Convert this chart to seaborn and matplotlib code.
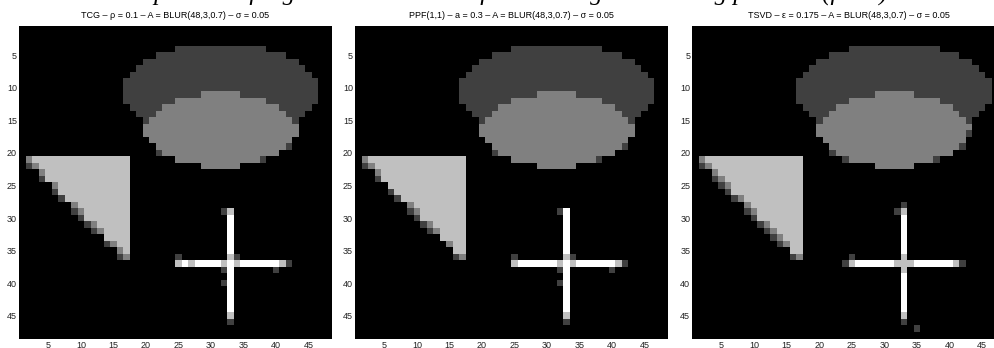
import numpy as np
import pandas as pd
import matplotlib
matplotlib.use("Agg")
import matplotlib.pyplot as plt
import seaborn as sns

N = 48
tick_values = [5, 10, 15, 20, 25, 30, 35, 40, 45]

suptitle_text = "Comparison of regularized solutions for the image deblurring problem (fixed)"
titles = [
    "TCG – ρ = 0.1 – A = BLUR(48,3,0.7) – σ = 0.05",
    "PPF(1,1) – a = 0.3 – A = BLUR(48,3,0.7) – σ = 0.05",
    "TSVD – ε = 0.175 – A = BLUR(48,3,0.7) – σ = 0.05",
]

# Shapes of the test image:
# (first row, last row, first column, last column, gray level), 1-based
large_ellipse = [
    (4, 4, 25, 38, 1), (5, 5, 22, 41, 1), (6, 6, 20, 43, 1), (7, 7, 19, 44, 1),
    (8, 8, 18, 45, 1), (9, 12, 17, 46, 1), (13, 13, 18, 45, 1), (14, 14, 19, 44, 1),
    (15, 15, 20, 43, 1), (16, 16, 22, 41, 1), (17, 17, 25, 38, 1),
]
small_ellipse = [
    (11, 11, 29, 34, 2), (12, 12, 25, 38, 2), (13, 13, 23, 40, 2), (14, 14, 22, 41, 2),
    (15, 15, 21, 42, 2), (16, 17, 20, 43, 2), (18, 18, 21, 42, 2), (19, 19, 22, 41, 2),
    (20, 20, 23, 40, 2), (21, 21, 25, 38, 2), (22, 22, 29, 34, 2),
]
triangle = [
    (21, 21, 2, 17, 3), (22, 22, 3, 17, 3), (23, 23, 4, 17, 3), (24, 24, 5, 17, 3),
    (25, 25, 6, 17, 3), (26, 26, 7, 17, 3), (27, 27, 8, 17, 3), (28, 28, 9, 17, 3),
    (29, 29, 10, 17, 3), (30, 30, 11, 17, 3), (31, 31, 12, 17, 3), (32, 32, 13, 17, 3),
    (33, 33, 14, 17, 3), (34, 34, 15, 17, 3), (35, 35, 16, 17, 3), (36, 36, 17, 17, 3),
]
cross = [(37, 37, 25, 41, 4), (29, 45, 33, 33, 4)]

# Pixels where each reconstruction differs from the shapes: (row, column, level)
tcg_pixels = [
    (19, 42, 1), (20, 22, 1), (21, 38, 1),
    (21, 2, 2), (22, 2, 1), (22, 3, 2), (23, 4, 2), (24, 4, 1), (25, 6, 2), (26, 6, 1),
    (27, 7, 1), (28, 9, 2), (29, 9, 1), (29, 10, 2), (30, 10, 1), (31, 11, 1), (31, 12, 2),
    (32, 12, 1), (32, 13, 2), (34, 14, 1), (34, 15, 2), (35, 16, 2), (36, 16, 1), (36, 17, 2),
    (29, 32, 1), (29, 33, 3), (36, 33, 3), (36, 34, 1), (36, 25, 1), (37, 25, 3), (37, 27, 3),
    (37, 32, 3), (37, 34, 3), (37, 41, 3), (37, 42, 1), (38, 32, 1), (38, 40, 1), (40, 32, 1),
    (45, 33, 3), (46, 33, 1),
]
ppf_pixels = [
    (19, 42, 1), (20, 22, 1), (21, 38, 1),
    (21, 2, 2), (22, 2, 1), (22, 3, 2), (23, 4, 2), (24, 4, 1), (26, 6, 1), (27, 7, 1),
    (28, 9, 2), (29, 9, 1), (29, 10, 2), (30, 10, 1), (31, 11, 1), (31, 12, 2), (32, 12, 1),
    (32, 13, 2), (34, 15, 2), (36, 16, 1), (36, 17, 2),
    (29, 32, 1), (36, 25, 1), (36, 33, 3), (36, 34, 1), (37, 25, 3), (37, 32, 3), (37, 34, 3),
    (37, 41, 3), (37, 42, 1), (38, 32, 1), (38, 40, 1), (40, 32, 1), (45, 33, 3), (46, 33, 1),
]
tsvd_pixels = [
    (17, 43, 1), (19, 42, 1), (20, 22, 1), (21, 24, 1), (21, 38, 1),
    (21, 2, 2), (22, 2, 1), (22, 3, 2), (23, 4, 2), (24, 4, 1), (24, 5, 2), (25, 5, 1),
    (25, 6, 2), (26, 6, 1), (27, 7, 1), (27, 8, 2), (28, 9, 2), (29, 9, 1), (29, 10, 2),
    (30, 10, 1), (31, 11, 1), (31, 12, 2), (32, 12, 1), (32, 13, 2), (33, 13, 1), (33, 14, 2),
    (34, 14, 1), (34, 15, 2), (36, 16, 1), (36, 17, 2),
    (28, 33, 1), (29, 32, 1), (29, 33, 3), (36, 25, 1), (36, 33, 3), (37, 24, 1), (37, 25, 3),
    (37, 32, 3), (37, 33, 3), (37, 34, 3), (37, 41, 3), (37, 42, 1), (38, 33, 3), (45, 33, 3),
    (46, 33, 1), (47, 35, 1),
]
panel_pixels = [tcg_pixels, ppf_pixels, tsvd_pixels]


def build_image(pixels):
    img = np.zeros((N, N))
    for r0, r1, c0, c1, v in large_ellipse + small_ellipse + triangle + cross:
        img[r0 - 1:r1, c0 - 1:c1] = v
    for r, c, v in pixels:
        img[r - 1, c - 1] = v
    labels = list(range(1, N + 1))
    return pd.DataFrame(img, index=labels, columns=labels)


W, H = 995, 348
fig = plt.figure(figsize=(W / 100, H / 100), dpi=100)
fig.patch.set_facecolor("white")

sans = ["Liberation Sans", "DejaVu Sans"]
panel_left = [19.0, 355.0, 692.3]
side = 312.5
top = 26.0

for k in range(3):
    ax = fig.add_axes([panel_left[k] / W, (H - top - side) / H, side / W, side / H])
    sns.heatmap(build_image(panel_pixels[k]), ax=ax, cmap="gray", vmin=0, vmax=4,
                cbar=False, xticklabels=False, yticklabels=False)
    ax.set_xticks([t - 0.5 for t in tick_values])
    ax.set_xticklabels([str(t) for t in tick_values], rotation=0,
                       fontsize=6.5, family=sans, color="#222222")
    ax.set_yticks([t - 0.5 for t in tick_values])
    ax.set_yticklabels([str(t) for t in tick_values], rotation=0,
                       fontsize=6.5, family=sans, color="#222222")
    ax.tick_params(length=0, pad=1.5)
    ax.set_xlabel("")
    ax.set_ylabel("")
    ax.set_title(titles[k], fontsize=6.5, family=sans, pad=6)

fig.text(0.5, 1 + 0.5 / H, suptitle_text, ha="center", va="baseline",
         fontsize=18, style="italic", family=["Liberation Serif", "DejaVu Serif"])

fig.savefig("out.png", dpi=100)
